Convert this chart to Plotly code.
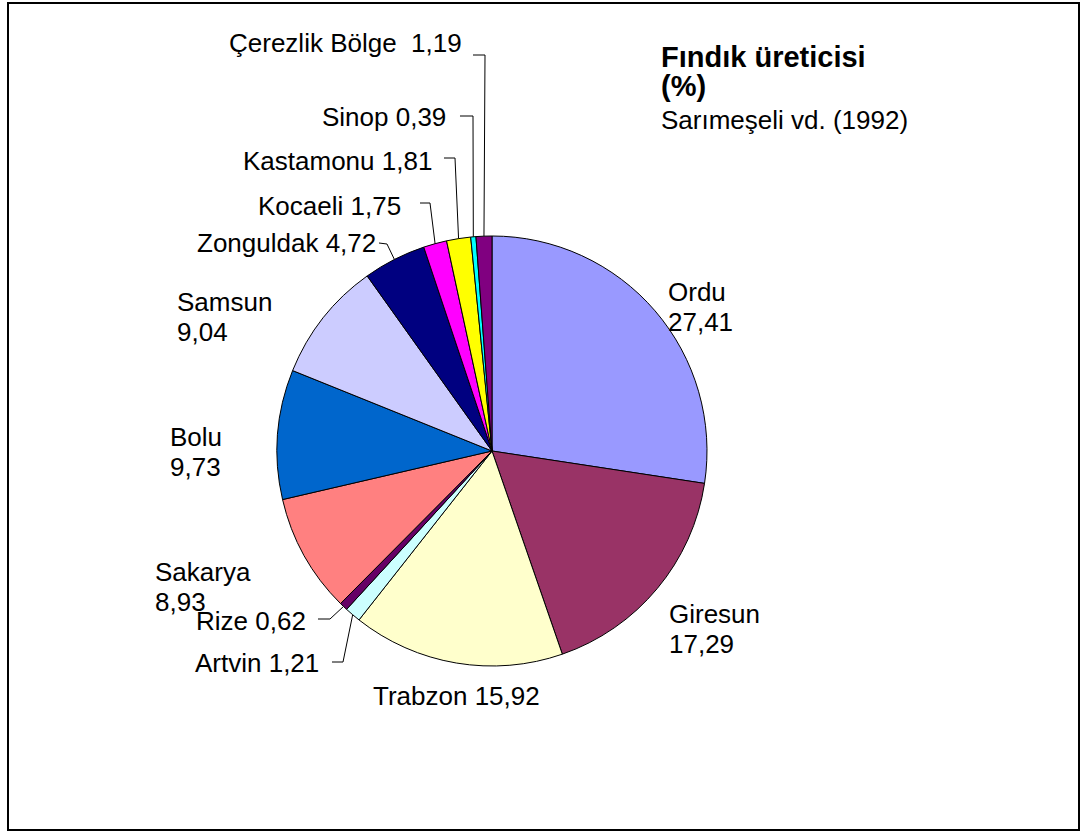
import math
import plotly.graph_objects as go

# ---- data ----
regions = ["Ordu", "Giresun", "Trabzon", "Artvin", "Rize", "Sakarya", "Bolu",
           "Samsun", "Zonguldak", "Kocaeli", "Kastamonu", "Sinop", "Çerezlik Bölge"]
shares = [27.41, 17.29, 15.92, 1.21, 0.62, 8.93, 9.73, 9.04, 4.72, 1.75, 1.81, 0.39, 1.19]
colors = ["#9999FF", "#993366", "#FFFFCC", "#CCFFFF", "#660066", "#FF8080", "#0066CC",
          "#CCCCFF", "#000080", "#FF00FF", "#FFFF00", "#00FFFF", "#800080"]
title_lines = ["Fındık üreticisi", "(%)", "Sarımeşeli vd. (1992)"]

# ---- layout geometry (pixels) ----
W, H = 1081, 833
CX, CY, R = 492, 451, 215
FONT = "Liberation Sans, Arial, sans-serif"
FS = 26


def px(x):
    return x / W


def py(y):
    return 1 - y / H


def fmt(v):
    return f"{v:.2f}".replace(".", ",")


# label placement: (two_lines, x, y_first, anchor)
label_pos = {
    "Ordu": (True, 666, 292, "left"),
    "Giresun": (True, 667, 614, "left"),
    "Trabzon": (False, 456, 696, "center"),
    "Artvin": (False, 321, 663, "right"),
    "Rize": (False, 308, 621, "right"),
    "Sakarya": (True, 153, 572, "left"),
    "Bolu": (True, 168, 437, "left"),
    "Samsun": (True, 175, 302, "left"),
    "Zonguldak": (False, 378, 243, "right"),
    "Kocaeli": (False, 403, 206, "right"),
    "Kastamonu": (False, 434, 161, "right"),
    "Sinop": (False, 448, 117, "right"),
    "Çerezlik Bölge": (False, 464, 43, "right"),
}
LINE_GAP = 30

# leader line start and elbow (pixels)
leaders = {
    "Çerezlik Bölge": [(473, 55), (485, 55)],
    "Sinop": [(460, 116), (473, 116)],
    "Kastamonu": [(444, 158), (455, 158)],
    "Kocaeli": [(420, 203), (430, 203)],
    "Zonguldak": [(379, 243), (387, 244)],
    "Rize": [(318, 619), (330, 619)],
    "Artvin": [(332, 662), (343, 662)],
}

fig = go.Figure()
fig.add_trace(go.Pie(
    labels=regions, values=shares, sort=False, direction="clockwise", rotation=0,
    marker=dict(colors=colors, line=dict(color="black", width=1)),
    textinfo="none", hoverinfo="label+value", showlegend=False,
    domain=dict(x=[px(CX - R), px(CX + R)], y=[py(CY + R), py(CY - R)]),
))

annotations = []
for name, val in zip(regions, shares):
    two, x, y, anc = label_pos[name]
    if two:
        lines = [name, fmt(val)]
    else:
        sep = "\u00a0\u00a0" if name == "Çerezlik Bölge" else " "
        lines = [name + sep + fmt(val)]
    for i, t in enumerate(lines):
        annotations.append(dict(
            x=px(x), y=py(y + i * LINE_GAP), xref="paper", yref="paper",
            text=t, showarrow=False, xanchor=anc, yanchor="middle",
            font=dict(family=FONT, size=FS, color="black"),
        ))

# title block
title_y = [57, 86, 120]
for i, t in enumerate(title_lines):
    bold = i < 2
    annotations.append(dict(
        x=px(659), y=py(title_y[i]), xref="paper", yref="paper",
        text=f"<b>{t}</b>" if bold else t, showarrow=False,
        xanchor="left", yanchor="middle",
        font=dict(family=FONT, size=29 if bold else FS, color="black"),
    ))

# leader lines, ending at slice mid-angle on the rim
total = sum(shares)
shapes = []
cum = 0.0
for name, val in zip(regions, shares):
    mid = (cum + val / 2) / total * 2 * math.pi
    cum += val
    if name not in leaders:
        continue
    ex = CX + R * math.sin(mid)
    ey = CY - R * math.cos(mid)
    pts = leaders[name] + [(ex, ey)]
    path = "M " + " L ".join(f"{px(a):.5f},{py(b):.5f}" for a, b in pts)
    shapes.append(dict(type="path", path=path, xref="paper", yref="paper",
                       line=dict(color="black", width=1)))

# outer border
shapes.append(dict(type="rect", xref="paper", yref="paper",
                   x0=px(8), x1=px(1079), y0=py(830), y1=py(3),
                   line=dict(color="black", width=2)))

fig.update_layout(
    width=W, height=H, margin=dict(l=0, r=0, t=0, b=0),
    paper_bgcolor="white", plot_bgcolor="white",
    annotations=annotations, shapes=shapes,
)

fig.write_html("out.html", config={"displayModeBar": False},
               post_script="document.body.style.margin='0';")
